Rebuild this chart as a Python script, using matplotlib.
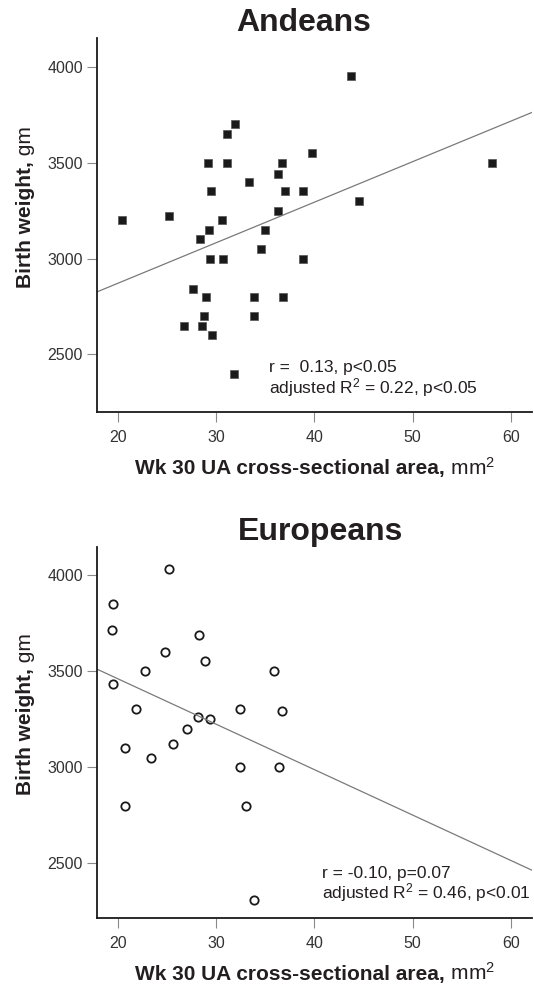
import numpy as np
import matplotlib.pyplot as plt

plt.rcParams['font.family'] = ['Liberation Sans', 'DejaVu Sans']
plt.rcParams['mathtext.fontset'] = 'custom'
plt.rcParams['mathtext.rm'] = 'Liberation Sans'
plt.rcParams['mathtext.it'] = 'Liberation Sans:italic'
plt.rcParams['mathtext.bf'] = 'Liberation Sans:bold'

# Andeans: week 30 uterine artery area (mm2) vs birth weight (g)
andean_area = [20.4, 25.2, 26.7, 27.6, 28.3, 28.6, 28.8, 28.95, 29.2, 29.3,
               29.36, 29.5, 29.56, 30.6, 30.7, 31.1, 31.1, 31.9, 31.8, 33.3,
               33.8, 33.8, 34.6, 35.0, 36.3, 36.3, 36.7, 37.0, 36.8, 38.8,
               38.8, 39.7, 43.7, 44.5, 58.06]
andean_bw = [3200, 3220, 2650, 2840, 3100, 2650, 2700, 2800, 3500, 3150,
             3000, 3350, 2600, 3200, 3000, 3500, 3650, 3700, 2400, 3400,
             2800, 2700, 3050, 3150, 3250, 3440, 3500, 3350, 2800, 3350,
             3000, 3550, 3950, 3300, 3500]
andean_fit = (2449, 21.13)   # intercept, slope
andean_stats = ["r =  0.13, p<0.05", "adjusted R$^2$ = 0.22, p<0.05"]

# Europeans
euro_area = [25.2, 19.5, 19.36, 28.2, 24.8, 28.9, 22.7, 35.9, 19.5, 21.8,
             32.4, 36.7, 28.1, 29.36, 27.0, 25.6, 20.7, 23.4, 32.4, 36.4,
             20.7, 33.0, 33.8]
euro_bw = [4030, 3850, 3715, 3690, 3600, 3550, 3500, 3500, 3430, 3300,
           3300, 3290, 3260, 3250, 3200, 3120, 3100, 3050, 3000, 3000,
           2800, 2800, 2310]
euro_fit = (3932, -23.63)
euro_stats = ["r = -0.10, p=0.07", "adjusted R$^2$ = 0.46, p<0.01"]

x_ticks = [20, 30, 40, 50, 60]
y_ticks = [2500, 3000, 3500, 4000]

TXT = '#231f20'


def two_part_label(ax, bold, normal, x, y, rotation=0):
    """bold text followed by normal-weight text"""
    if rotation:
        t1 = ax.text(x, y, bold, transform=ax.transAxes, rotation=90,
                     ha='center', va='bottom', fontsize=15,
                     fontweight='bold', color=TXT)
        ax.annotate(normal, xy=(0.5, 1), xycoords=t1, rotation=90,
                    ha='center', va='bottom', fontsize=15, color=TXT)
    else:
        t1 = ax.text(x, y, bold, transform=ax.transAxes, ha='left',
                     va='baseline', fontsize=15, fontweight='bold', color=TXT)
        ax.annotate(normal, xy=(1, 0), xycoords=t1, ha='left', va='bottom',
                    fontsize=15, color=TXT)


def panel(ax, x, y, fit, stats, title, title_x, title_pad, ylim, stats_x, stats_y, **mk):
    ax.plot(x, y, linestyle='none', **mk)
    xl = np.array([17.86, 62.14])
    ax.plot(xl, fit[0] + fit[1] * xl, color='#7a7a7a', lw=0.9)
    ax.set_xlim(17.86, 62.14)
    ax.set_ylim(*ylim)
    ax.set_xticks(x_ticks)
    ax.set_yticks(y_ticks)
    for s in ['top', 'right']:
        ax.spines[s].set_visible(False)
    for s in ['left', 'bottom']:
        ax.spines[s].set_linewidth(1.3)
        ax.spines[s].set_color('#1a1a1a')
    ax.tick_params(axis='both', direction='out', length=7, width=0.8,
                   color='#8a8a8a', labelsize=11.5, labelcolor='#333333')
    ax.tick_params(axis='x', pad=6)
    ax.tick_params(axis='y', pad=3)
    ax.set_title(title, fontsize=23, fontweight='bold', color=TXT,
                 x=title_x, pad=title_pad)
    ax.text(stats_x, stats_y[0], stats[0], transform=ax.transAxes,
            fontsize=12.5, color=TXT, va='baseline')
    ax.text(stats_x, stats_y[1], stats[1], transform=ax.transAxes,
            fontsize=12.5, color=TXT, va='baseline')
    two_part_label(ax, "Birth weight,", " gm", -0.165, 0.332, rotation=90)
    two_part_label(ax, "Wk 30 UA cross-sectional area,", " mm$^2$", 0.087, -0.167)


fig = plt.figure(figsize=(5.34, 9.85), dpi=100)
ax1 = fig.add_axes([0.1816, 0.5817, 0.8146, 0.3797])
ax2 = fig.add_axes([0.1816, 0.0680, 0.8146, 0.3766])

panel(ax1, andean_area, andean_bw, andean_fit, andean_stats, "Andeans",
      0.476, 0.8, (2200, 4150), 0.395, (0.107, 0.051),
      marker='s', ms=6, mfc='#1a1a1a', mec='#555555', mew=0.5)
panel(ax2, euro_area, euro_bw, euro_fit, euro_stats, "Europeans",
      0.513, 3, (2215, 4145), 0.517, (0.108, 0.054),
      marker='o', ms=6, mfc='white', mec='#1a1a1a', mew=1.3)

fig.savefig('out.png', dpi=100)
